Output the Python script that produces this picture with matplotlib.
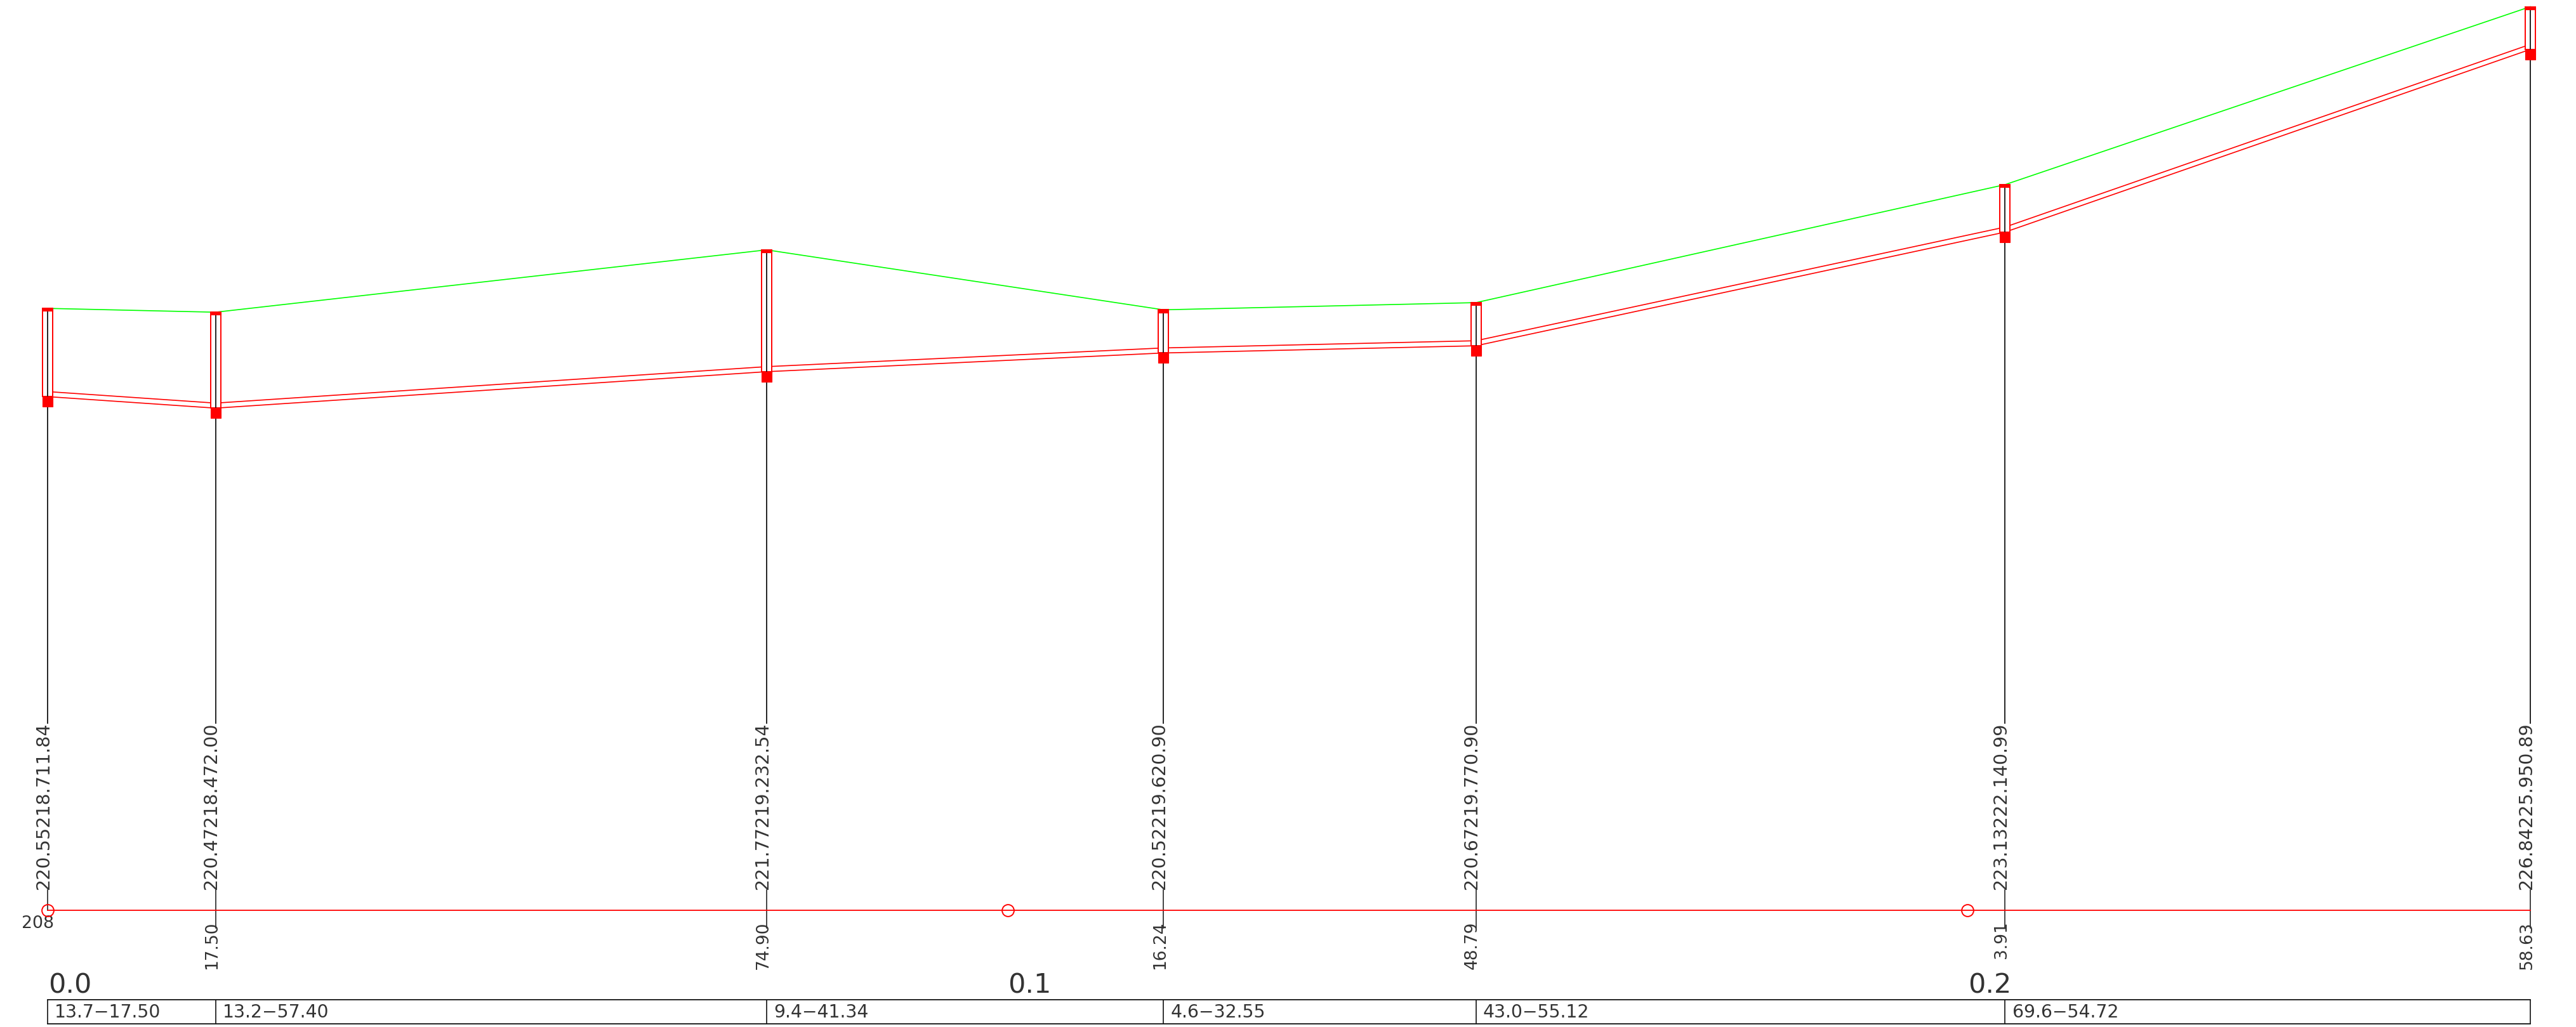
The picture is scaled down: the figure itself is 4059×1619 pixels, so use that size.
# -*- coding: utf-8 -*-
"""
Sewer longitudinal section: ground line, pipe, manholes and station labels.

Output: out.png
"""

import matplotlib.pyplot as plt
from matplotlib import rcParams
from matplotlib.patches import Rectangle

rcParams['font.family'] = ['DejaVu Sans']

chainage = [0.0, 17.50, 74.90, 116.24, 148.79, 203.91, 258.63]
ground   = [220.55, 220.47, 221.77, 220.52, 220.67, 223.13, 226.84]
invert   = [218.71, 218.47, 219.23, 219.62, 219.77, 222.14, 225.95]
depth    = [1.84, 2.00, 2.54, 0.90, 0.90, 0.99, 0.89]

chain_labels = ['17.50', '74.90', '16.24', '48.79', '3.91', '58.63']
pipe_labels  = ['13.7−17.50', '13.2−57.40', '9.4−41.34',
                '4.6−32.55', '43.0−55.12', '69.6−54.72']
km_ticks  = [0, 100, 200]
km_labels = ['0.0', '0.1', '0.2']
DATUM = 208

PIPE_DIA  = 0.105
MH_HALF   = 0.53
MH_BASE   = 0.21
MH_CAP    = 0.055
RED   = '#FF0000'
GREEN = '#00FF00'
INK   = '#333333'
LINE  = '#111111'

# one unit on x is 15.126 px, on y 75.6 px
fig = plt.figure(figsize=(40.59, 16.19), dpi=100, facecolor='white')
ax = fig.add_axes([0, 0, 1, 1])
ax.set_xlim(-4.958, 263.39)
ax.set_ylim(205.566, 226.98)
ax.axis('off')

# ── Ground and pipe ──────────────────────────────────────────────────────
ax.plot(chainage, ground, color=GREEN, lw=1.2, zorder=2)
ax.plot(chainage, invert, color=RED, lw=1.2, zorder=2)
ax.plot(chainage, [v + PIPE_DIA for v in invert], color=RED, lw=1.2, zorder=2)

# ── Manholes and leader lines ────────────────────────────────────────────
for s, g, inv in zip(chainage, ground, invert):
    ax.add_patch(Rectangle((s - MH_HALF, inv), 2 * MH_HALF, g - inv,
                           fc='white', ec=RED, lw=1.4, zorder=3))
    ax.plot([s, s], [211.9, g - MH_CAP], color=LINE, lw=1.3, zorder=4)
    ax.add_patch(Rectangle((s - MH_HALF, inv - MH_BASE), 2 * MH_HALF, MH_BASE,
                           fc=RED, ec=RED, lw=0.8, zorder=5))
    ax.add_patch(Rectangle((s - MH_HALF, g - MH_CAP), 2 * MH_HALF, MH_CAP,
                           fc=RED, ec=RED, lw=0.8, zorder=5))

for i, s in enumerate(chainage):
    low = DATUM if i == 0 else 207.63
    ax.plot([s, s], [low, 208.42], color=LINE, lw=1.1, zorder=1)

# ── Datum line and chainage marks ────────────────────────────────────────
ax.plot([chainage[0], chainage[-1]], [DATUM, DATUM], color=RED, lw=1.3, zorder=2)
ax.plot(km_ticks, [DATUM] * len(km_ticks), ls='none', marker='o', ms=13.5,
        mfc='none', mec=RED, mew=1.4, zorder=5)
for t, lab in zip(km_ticks, km_labels):
    ax.text(t + 0.05, 206.27, lab, fontsize=31, color=INK, ha='left', va='baseline')

ax.text(chainage[0] + 0.7, 207.63, str(DATUM), fontsize=19.3, color=INK,
        ha='right', va='baseline')

# ── Station labels ───────────────────────────────────────────────────────
for s, g, inv, d in zip(chainage, ground, invert, depth):
    ax.text(s + 0.1, 208.43, f'{g:.2f}{inv:.2f}{d:.2f}', fontsize=20.5, color=INK,
            rotation=90, rotation_mode='anchor', ha='left', va='baseline')

for s, lab in zip(chainage[1:], chain_labels):
    ax.text(s + 0.1, 207.77, lab, fontsize=19, color=INK,
            rotation=90, rotation_mode='anchor', ha='right', va='baseline')

# ── Table strip ──────────────────────────────────────────────────────────
TAB_TOP, TAB_BOT = 205.63, 206.13
ax.plot([chainage[0], chainage[-1]], [TAB_TOP, TAB_TOP], color=LINE, lw=1.3)
ax.plot([chainage[0], chainage[-1]], [TAB_BOT, TAB_BOT], color=LINE, lw=1.3)
ax.vlines(chainage, TAB_TOP, TAB_BOT, color=LINE, lw=1.2)
for s, lab in zip(chainage[:-1], pipe_labels):
    ax.text(s + 0.75, 205.76, lab, fontsize=20.3, color=INK, ha='left', va='baseline')

fig.savefig('out.png', dpi=100, facecolor='white')
print('Saved: out.png')
